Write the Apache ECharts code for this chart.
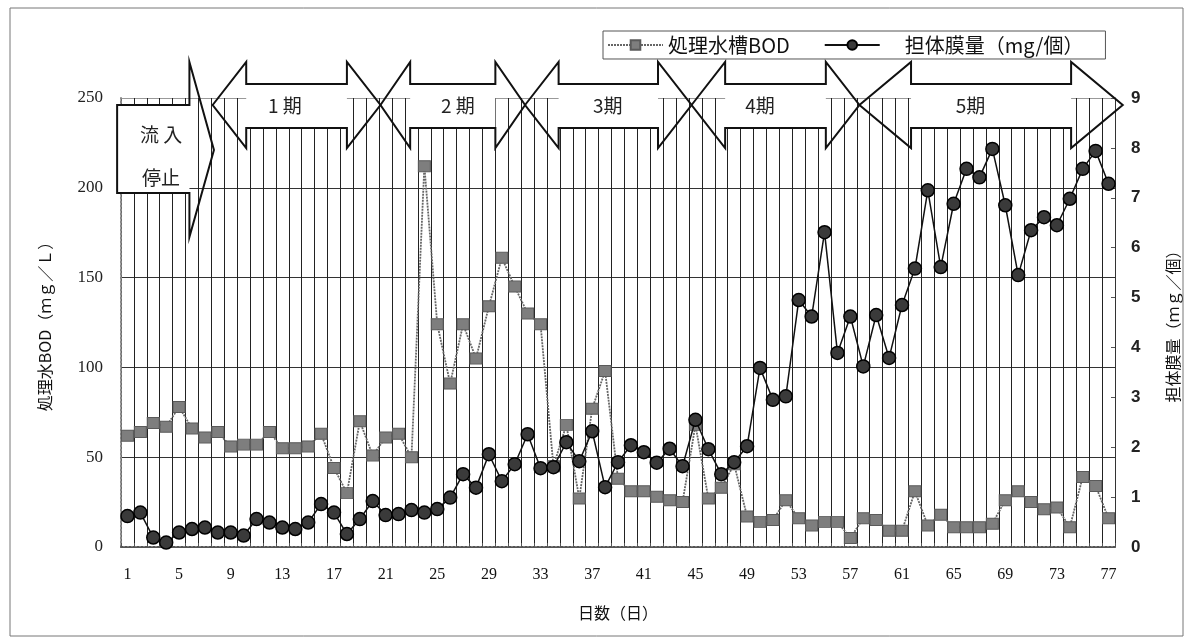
<!DOCTYPE html>
<html>
<head>
<meta charset="utf-8">
<script src="https://cdn.jsdelivr.net/npm/echarts@6/dist/echarts.min.js"></script>
<style>
  html, body { margin: 0; padding: 0; background: #fff; }
  #main { width: 1194px; height: 641px; }
</style>
</head>
<body>
<div id="main"></div>
<script>
// 日数
const days = ['1','2','3','4','5','6','7','8','9','10','11','12','13','14','15','16','17','18','19','20',
  '21','22','23','24','25','26','27','28','29','30','31','32','33','34','35','36','37','38','39','40',
  '41','42','43','44','45','46','47','48','49','50','51','52','53','54','55','56','57','58','59','60',
  '61','62','63','64','65','66','67','68','69','70','71','72','73','74','75','76','77'];

// 処理水槽BOD (mg/L)
const bod = [62, 64, 69, 67, 78, 66, 61, 64, 56, 57, 57, 64, 55, 55, 56, 63, 44, 30, 70, 51,
  61, 63, 50, 212, 124, 91, 124, 105, 134, 161, 145, 130, 124, 45, 68, 27, 77, 98, 38, 31,
  31, 28, 26, 25, 68, 27, 33, 46, 17, 14, 15, 26, 16, 12, 14, 14, 5, 16, 15, 9,
  9, 31, 12, 18, 11, 11, 11, 13, 26, 31, 25, 21, 22, 11, 39, 34, 16];

// 担体膜量 (mg/個)
const film = [0.62, 0.69, 0.19, 0.09, 0.29, 0.36, 0.39, 0.29, 0.29, 0.23, 0.56, 0.49, 0.39, 0.36, 0.49, 0.86, 0.69, 0.26, 0.56, 0.92,
  0.64, 0.66, 0.74, 0.69, 0.76, 0.99, 1.46, 1.19, 1.86, 1.32, 1.66, 2.26, 1.58, 1.6, 2.1, 1.72, 2.32, 1.2, 1.7, 2.04,
  1.9, 1.69, 1.97, 1.62, 2.55, 1.96, 1.46, 1.7, 2.02, 3.59, 2.95, 3.02, 4.95, 4.62, 6.31, 3.89, 4.62, 3.62, 4.65, 3.79,
  4.85, 5.58, 7.15, 5.61, 6.88, 7.58, 7.41, 7.98, 6.85, 5.45, 6.35, 6.61, 6.45, 6.98, 7.58, 7.94, 7.28];

// 期間 (日数の境界で)
const periodNames = ['1 期', '2 期', '3期', '4期', '5期'];
const periodSpans = [[7.1, 20.1], [20.1, 31.3], [31.3, 44.2], [44.2, 57.2], [57.2, 77.6]];
const periodLabelAt = [12.7, 26.1, 37.7, 49.5, 65.8];
const stopSpan = [-0.3, 5.3, 7.2];

const seriesNames = ['処理水槽BOD', '担体膜量（mg/個）'];

const jp = '"Noto Sans CJK JP", sans-serif';
const serif = '"Liberation Serif", "DejaVu Serif", serif';

let myChart = echarts.init(document.getElementById('main'));

let option = {
  animation: false,
  backgroundColor: '#fff',
  grid: { left: 121, right: 79, top: 98, bottom: 94 },
  legend: {
    left: 603,
    top: 31,
    padding: [4, 22, 4, 4],
    borderColor: '#555',
    borderWidth: 1,
    itemWidth: 55,
    itemHeight: 12,
    itemGap: 34,
    textStyle: { fontFamily: jp, fontSize: 20, color: '#111' },
    formatter: function (name) {
      return name === seriesNames[1] ? '　' + name : name;
    },
    data: seriesNames
  },
  xAxis: {
    type: 'category',
    data: days,
    boundaryGap: true,
    name: '日数（日）',
    nameLocation: 'middle',
    nameGap: 58,
    nameTextStyle: { fontFamily: jp, fontSize: 16, color: '#111' },
    axisLine: { lineStyle: { color: '#555', width: 2, type: 'dotted' } },
    axisTick: { show: true, interval: 0, inside: true, length: 4, lineStyle: { color: '#555' } },
    axisLabel: { interval: 3, margin: 20, fontFamily: serif, fontSize: 16, color: '#111' },
    splitLine: { show: true, interval: 0, lineStyle: { color: '#222', width: 1 } }
  },
  yAxis: [
    {
      type: 'value',
      min: 0,
      max: 250,
      interval: 50,
      name: '処理水BOD（ｍｇ／Ｌ）',
      nameLocation: 'middle',
      nameRotate: 90,
      nameGap: 68,
      nameTextStyle: { fontFamily: jp, fontSize: 16, color: '#111' },
      axisLine: { show: true, lineStyle: { color: '#888', type: 'dotted', width: 2 } },
      axisTick: { show: false },
      axisLabel: { margin: 18, fontFamily: serif, fontSize: 17, color: '#222' },
      splitLine: { show: true, lineStyle: { color: ['#555', '#333', '#333', '#333', '#333', '#999'], width: 1 } }
    },
    {
      type: 'value',
      min: 0,
      max: 9,
      interval: 1,
      position: 'right',
      name: '担体膜量（ｍｇ／個）',
      nameLocation: 'middle',
      nameRotate: 90,
      nameGap: 50,
      nameTextStyle: { fontFamily: jp, fontSize: 16, color: '#111' },
      axisLine: { show: true, lineStyle: { color: '#333', width: 1 } },
      axisTick: { show: true, inside: true, length: 4, lineStyle: { color: '#555' } },
      axisLabel: { margin: 16, fontFamily: '"Liberation Sans", Arial, sans-serif', fontWeight: 'bold', fontSize: 17, color: '#222' },
      splitLine: { show: false }
    }
  ],
  series: [
    {
      name: seriesNames[0],
      type: 'line',
      yAxisIndex: 0,
      data: bod,
      symbol: 'rect',
      symbolSize: [12, 11],
      showAllSymbol: true,
      itemStyle: { color: '#7e7e7e', borderColor: '#5a5a5a', borderWidth: 1 },
      lineStyle: { color: '#666', width: 1.8, type: [2, 1] },
      z: 3
    },
    {
      name: seriesNames[1],
      type: 'line',
      yAxisIndex: 1,
      data: film,
      symbol: 'circle',
      symbolSize: 13,
      showAllSymbol: true,
      itemStyle: { color: '#3a3a3a', borderColor: '#000', borderWidth: 1.5 },
      lineStyle: { color: '#111', width: 1.5 },
      z: 4
    }
  ]
};

myChart.setOption(option);

// 期間の矢印 (日数の境界 → ピクセル)
let c0 = myChart.convertToPixel({ xAxisIndex: 0 }, 0);
let c1 = myChart.convertToPixel({ xAxisIndex: 0 }, 1);
let cell = c1 - c0;
let gx = c0 - cell / 2;
const px = b => gx + b * cell;

const yTop = 62, yShaftTop = 84, yMid = 105, yShaftBot = 128, yBot = 148;
const headW = [2.6, 2.3, 2.6, 2.6, 4.0];
let graphics = [];

periodSpans.forEach(function (s, i) {
  let tl = px(s[0]), tr = px(s[1]);
  let bl = px(s[0] + headW[i]), br = px(s[1] - headW[i]);
  graphics.push({
    type: 'rect', z: 20, silent: true,
    shape: { x: bl, y: yShaftTop, width: br - bl, height: yShaftBot - yShaftTop },
    style: { fill: '#fff' }
  });
  graphics.push({
    type: 'polygon', z: 21, silent: true,
    shape: { points: [[tl, yMid], [bl, yTop], [bl, yShaftTop], [br, yShaftTop], [br, yTop], [tr, yMid],
      [br, yBot], [br, yShaftBot], [bl, yShaftBot], [bl, yBot]] },
    style: { fill: 'none', stroke: '#111', lineWidth: 2 }
  });
  graphics.push({
    type: 'text', z: 22, silent: true,
    x: px(periodLabelAt[i]), y: (yShaftTop + yShaftBot) / 2,
    style: { text: periodNames[i], fill: '#222', font: '19px ' + jp, align: 'center', verticalAlign: 'middle' }
  });
});

// 流入停止
let sl = px(stopSpan[0]), sb = px(stopSpan[1]), st = px(stopSpan[2]);
let sc = px(3.1);
graphics.push({
  type: 'rect', z: 20, silent: true,
  shape: { x: sl, y: 105, width: sb - sl, height: 88 },
  style: { fill: '#fff' }
});
graphics.push({
  type: 'polygon', z: 21, silent: true,
  shape: { points: [[sl, 105], [sb, 105], [sb, yTop], [st, 150], [sb, 237], [sb, 193], [sl, 193]] },
  style: { fill: 'none', stroke: '#111', lineWidth: 2 }
});
graphics.push({
  type: 'text', z: 22, silent: true, x: sc, y: 135,
  style: { text: '流 入', fill: '#222', font: '19px ' + jp, align: 'center', verticalAlign: 'middle' }
});
graphics.push({
  type: 'text', z: 22, silent: true, x: sc, y: 178,
  style: { text: '停止', fill: '#222', font: '19px ' + jp, align: 'center', verticalAlign: 'middle' }
});

// 外枠
graphics.push({
  type: 'rect', z: 1, silent: true,
  shape: { x: 10, y: 8, width: 1173, height: 628 },
  style: { fill: 'none', stroke: '#777', lineWidth: 1 }
});

myChart.setOption({ graphic: graphics });
</script>
</body>
</html>
